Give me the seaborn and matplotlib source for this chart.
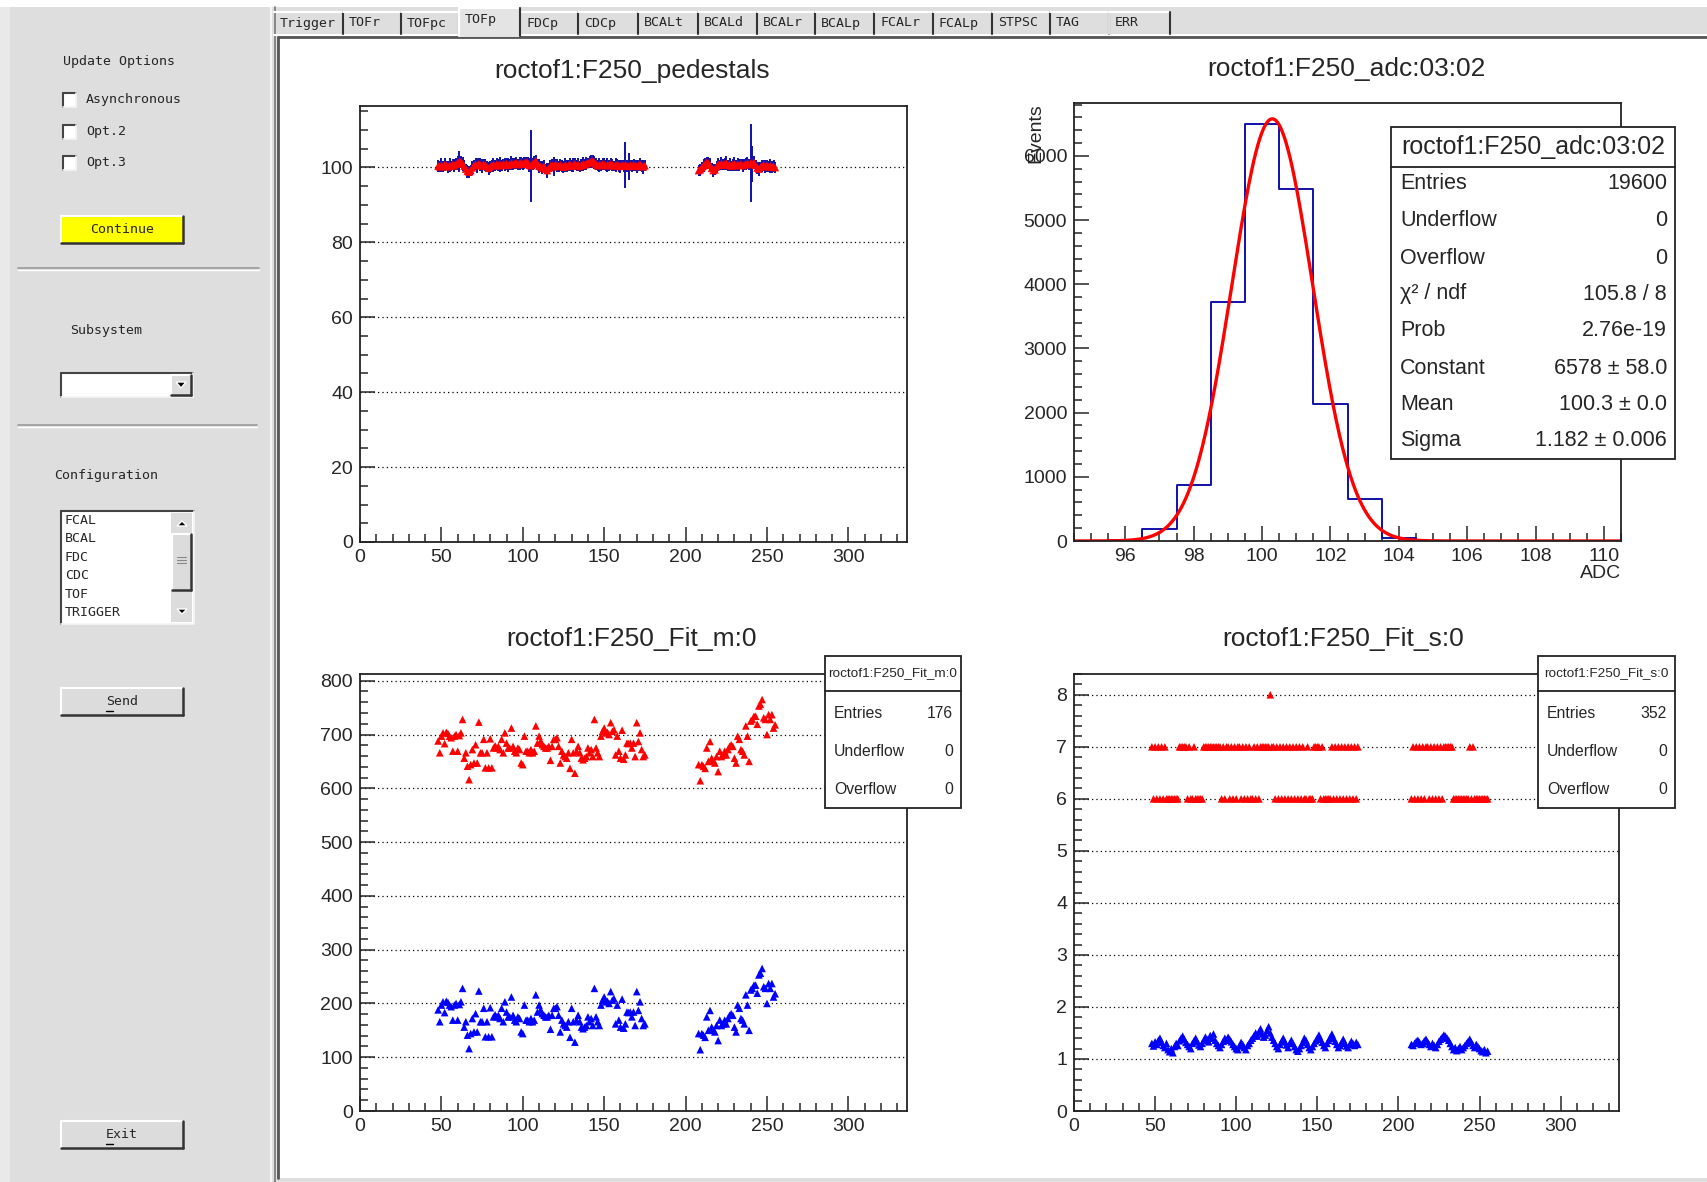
import numpy as np
import pandas as pd
import matplotlib
matplotlib.use("Agg")
import matplotlib.pyplot as plt
import seaborn as sns
from matplotlib.patches import Rectangle, Polygon
from matplotlib.lines import Line2D
from matplotlib.ticker import MultipleLocator

# ---------------- data ----------------
tab_names = ["Trigger", "TOFr", "TOFpc", "TOFp", "FDCp", "CDCp", "BCALt", "BCALd",
             "BCALr", "BCALp", "FCALr", "FCALp", "STPSC", "TAG", "ERR"]
config_items = ["FCAL", "BCAL", "FDC", "CDC", "TOF", "TRIGGER"]

channels = list(range(48, 176)) + list(range(208, 256))

ped_mean = [
    100.4, 100.2, 100.6, 100.3, 100.7, 100.5, 100.2, 100.6, 100.4, 100.8,
    100.5, 100.9, 101.2, 101.6, 101.5, 101.0, 100.4, 99.6, 99.0, 98.8,
    99.2, 99.9, 100.5, 100.8, 100.6, 101.0, 100.7, 100.4, 100.9, 100.6,
    100.3, 99.8, 100.2, 100.6, 100.7, 100.5, 100.9, 100.6, 100.8, 100.5,
    100.9, 100.7, 101.0, 100.6, 100.8, 101.1, 100.9, 101.0, 101.2, 100.8,
    101.1, 101.3, 100.9, 101.2, 101.4, 101.3, 100.6, 100.5, 100.9, 101.3,
    101.8, 100.8, 100.4, 100.2, 99.9, 100.3, 99.6, 99.2, 99.8, 100.4,
    100.6, 100.2, 100.8, 100.5, 100.3, 100.7, 100.4, 100.1, 100.6, 100.3,
    100.5, 100.8, 100.4, 100.6, 100.9, 100.5, 100.7, 100.3, 100.6, 100.9,
    100.7, 101.0, 101.2, 101.4, 101.6, 101.7, 101.3, 100.9, 100.5, 100.7,
    100.6, 100.9, 100.8, 100.5, 100.7, 100.6, 100.9, 100.7, 100.4, 100.6,
    100.8, 100.5, 100.3, 100.6, 100.4, 100.7, 100.5, 100.3, 100.6, 100.4,
    100.7, 100.5, 100.3, 100.6, 100.8, 100.4, 100.2, 100.5,
    99.2, 99.4, 100.0, 100.5, 100.9, 101.3, 101.1, 100.6, 99.8, 99.2,
    99.4, 100.2, 100.8, 100.6, 101.0, 100.7, 100.9, 101.1, 100.6, 100.8,
    100.4, 100.7, 100.9, 100.5, 100.8, 100.6, 100.9, 100.5, 100.7, 100.9,
    101.1, 100.8, 101.2, 100.9, 101.3, 100.6, 99.9, 99.6, 100.1, 100.4,
    100.6, 100.3, 100.5, 100.2, 100.4, 100.1, 100.3, 100.0,
]
ped_err = [
    1.6, 1.4, 1.8, 1.5, 1.7, 1.3, 1.6, 1.9, 1.4, 1.5,
    1.7, 1.5, 1.8, 2.8, 1.6, 1.9, 1.5, 1.4, 1.7, 1.6,
    1.5, 1.8, 1.4, 1.6, 2.0, 1.5, 1.7, 1.9, 1.4, 1.6,
    1.5, 1.7, 1.6, 1.4, 1.8, 1.5, 1.7, 1.6, 1.9, 1.5,
    1.4, 1.7, 1.6, 1.8, 1.5, 1.9, 1.6, 1.4, 1.7, 1.5,
    1.8, 1.6, 1.5, 1.7, 1.4, 1.6, 1.9, 9.6, 1.5, 1.7,
    1.6, 1.4, 1.8, 1.5, 1.7, 1.6, 1.4, 1.9, 1.5, 1.7,
    1.6, 2.6, 1.5, 1.8, 1.4, 1.6, 1.7, 1.5, 1.9, 1.6,
    1.4, 1.7, 1.5, 1.8, 1.6, 1.4, 1.7, 1.5, 1.6, 1.9,
    1.5, 1.7, 1.4, 1.6, 1.8, 1.5, 1.7, 1.6, 1.4, 1.8,
    1.5, 1.7, 1.6, 1.4, 1.9, 1.5, 1.7, 1.6, 1.4, 1.8,
    1.5, 1.6, 1.7, 1.4, 1.5, 6.2, 1.6, 3.6, 1.5, 1.7,
    1.6, 1.4, 1.8, 1.5, 1.7, 1.6, 1.9, 1.5,
    1.4, 1.6, 1.5, 1.8, 1.7, 1.5, 1.6, 1.9, 1.4, 1.7,
    1.5, 1.6, 1.8, 1.4, 1.7, 1.5, 1.6, 1.9, 1.5, 1.7,
    1.4, 1.6, 1.8, 1.5, 1.7, 1.6, 1.4, 1.8, 1.5, 1.7,
    1.6, 1.4, 10.3, 4.8, 1.7, 1.5, 1.6, 1.8, 1.4, 1.6,
    1.5, 1.7, 1.6, 1.4, 1.8, 1.5, 1.6, 1.4,
]

adc_bins = [96, 97, 98, 99, 100, 101, 102, 103, 104]
adc_counts = [10, 180, 870, 3720, 6500, 5480, 2140, 650, 50]
fit_const, fit_mean, fit_sigma = 6578.0, 100.3, 1.182

fit_m_blue = [
    188, 166, 197, 203, 183, 204, 202, 197, 194, 169,
    197, 200, 169, 198, 203, 228, 156, 166, 141, 116,
    144, 172, 147, 181, 147, 223, 166, 166, 191, 138,
    166, 138, 192, 138, 175, 179, 175, 178, 172, 191,
    166, 203, 184, 175, 175, 212, 178, 169, 166, 175,
    172, 147, 144, 197, 169, 169, 166, 172, 166, 169,
    216, 184, 197, 188, 181, 178, 175, 175, 178, 152,
    178, 191, 191, 194, 178, 147, 169, 162, 159, 156,
    166, 137, 191, 166, 128, 169, 178, 166, 156, 153,
    156, 159, 175, 166, 172, 159, 228, 175, 166, 159,
    197, 206, 212, 203, 204, 200, 222, 206, 209, 162,
    197, 169, 156, 208, 154, 162, 184, 183, 184, 175,
    184, 159, 222, 187, 203, 172, 159, 162,
    144, 114, 144, 141, 137, 175, 150, 187, 156, 150,
    147, 159, 131, 169, 159, 162, 169, 162, 172, 178,
    181, 178, 156, 147, 197, 191, 172, 169, 162, 216,
    197, 150, 225, 228, 234, 234, 219, 253, 256, 265,
    231, 228, 200, 237, 228, 237, 212, 218,
]
fit_m_red = [
    688, 666, 697, 703, 683, 704, 702, 697, 694, 669,
    697, 700, 669, 698, 703, 728, 656, 666, 641, 616,
    644, 672, 647, 681, 647, 723, 666, 666, 691, 638,
    666, 638, 692, 638, 675, 679, 675, 678, 672, 691,
    666, 703, 684, 675, 675, 712, 678, 669, 666, 675,
    672, 647, 644, 697, 669, 669, 666, 672, 666, 669,
    716, 684, 697, 688, 681, 678, 675, 675, 678, 652,
    678, 691, 691, 694, 678, 647, 669, 662, 659, 656,
    666, 637, 691, 666, 628, 669, 678, 666, 656, 653,
    656, 659, 675, 666, 672, 659, 728, 675, 666, 659,
    697, 706, 712, 703, 704, 700, 722, 706, 709, 662,
    697, 669, 656, 708, 654, 662, 684, 683, 684, 675,
    684, 659, 722, 687, 703, 672, 659, 662,
    644, 614, 644, 641, 637, 675, 650, 687, 656, 650,
    647, 659, 631, 669, 659, 662, 669, 662, 672, 678,
    681, 678, 656, 647, 697, 691, 672, 669, 662, 716,
    697, 650, 725, 728, 734, 734, 719, 753, 756, 765,
    731, 728, 700, 737, 728, 737, 712, 718,
]

fit_s_blue = [
    1.30, 1.25, 1.33, 1.28, 1.36, 1.40, 1.32, 1.26, 1.22, 1.30,
    1.18, 1.14, 1.20, 1.12, 1.24, 1.30, 1.26, 1.35, 1.40, 1.44,
    1.38, 1.32, 1.28, 1.24, 1.20, 1.30, 1.35, 1.40, 1.33, 1.27,
    1.24, 1.30, 1.36, 1.42, 1.38, 1.33, 1.45, 1.40, 1.48, 1.36,
    1.30, 1.26, 1.22, 1.28, 1.34, 1.40, 1.36, 1.42, 1.38, 1.33,
    1.28, 1.24, 1.20, 1.18, 1.25, 1.32, 1.28, 1.22, 1.18, 1.26,
    1.30, 1.36, 1.40, 1.45, 1.50, 1.44, 1.52, 1.58, 1.48, 1.42,
    1.46, 1.55, 1.62, 1.50, 1.42, 1.36, 1.30, 1.24, 1.20, 1.28,
    1.34, 1.40, 1.33, 1.27, 1.22, 1.30, 1.36, 1.30, 1.24, 1.18,
    1.15, 1.20, 1.26, 1.32, 1.40, 1.36, 1.28, 1.22, 1.18, 1.24,
    1.30, 1.35, 1.40, 1.46, 1.38, 1.32, 1.26, 1.22, 1.30, 1.36,
    1.42, 1.48, 1.40, 1.34, 1.28, 1.22, 1.26, 1.32, 1.38, 1.30,
    1.25, 1.22, 1.28, 1.34, 1.30, 1.26, 1.32, 1.28,
    1.28, 1.26, 1.30, 1.34, 1.36, 1.32, 1.28, 1.30, 1.35, 1.38,
    1.33, 1.28, 1.24, 1.30, 1.26, 1.22, 1.28, 1.34, 1.38, 1.42,
    1.46, 1.44, 1.40, 1.36, 1.30, 1.24, 1.18, 1.22, 1.16, 1.20,
    1.24, 1.18, 1.22, 1.26, 1.30, 1.34, 1.38, 1.32, 1.26, 1.22,
    1.28, 1.24, 1.20, 1.16, 1.14, 1.18, 1.12, 1.15,
]
fit_s_red = [
    7, 6, 7, 6, 7, 6, 7, 6, 7, 6,
    6, 6, 6, 6, 6, 6, 6,
    7, 7, 7, 7, 7, 6, 7,
    6, 6, 7, 6, 6, 6, 6, 6,
    7, 7, 7, 7, 7, 7, 7, 7, 7, 7, 7,
    6, 7, 6, 7, 7, 6, 7, 6, 7, 6, 7, 7, 6, 7, 6, 7, 6, 7,
    6, 6, 7, 6, 7, 6,
    7, 7, 7, 7, 7, 7, 8, 7, 7,
    6, 7, 6, 7, 6, 7, 6,
    7, 6, 7, 6, 7, 6, 7, 6, 7, 6, 7,
    6, 6, 7, 6, 6, 6,
    7, 7, 7, 7, 6, 7, 6, 6, 6, 6, 6,
    7, 6, 7, 6, 7, 6, 7, 6, 7, 6, 7, 6, 7, 6, 7, 6, 7,
    6, 7, 6, 7, 6, 7, 6, 7, 6, 7, 7,
    6, 7, 6, 7, 6, 7, 6, 7, 6, 7,
    7, 7, 7, 7, 7, 6,
    6, 6, 6, 6, 6, 6, 6, 6, 6,
    7, 6, 7, 6,
    6, 6, 6, 6, 6, 6, 6, 6,
]

# ---------------- figure / helpers ----------------
W, H = 1707, 1182
sns.set_style("ticks")
plt.rcParams["font.family"] = ["Liberation Sans", "DejaVu Sans"]
GUI_FONT = "DejaVu Sans Mono"

fig = plt.figure(figsize=(W / 100, H / 100), dpi=100, facecolor="#dedede")


def rect(x0, y0, x1, y1, z=1, **kw):
    fig.add_artist(Rectangle((x0 / W, 1 - y1 / H), (x1 - x0) / W, (y1 - y0) / H,
                             transform=fig.transFigure, zorder=z, **kw))


def line(x0, y0, x1, y1, z=2, **kw):
    fig.add_artist(Line2D([x0 / W, x1 / W], [1 - y0 / H, 1 - y1 / H],
                          transform=fig.transFigure, zorder=z, **kw))


def text(x, y, s, z=3, **kw):
    fig.text(x / W, 1 - y / H, s, zorder=z, **kw)


def button(x0, y0, x1, y1, label, fc="#dcdcdc", under=None):
    rect(x0, y0, x1, y1, fc=fc, ec="none")
    line(x0, y0, x1, y0, color="white", lw=1.5)
    line(x0, y0, x0, y1, color="white", lw=1.5)
    line(x0, y1, x1, y1, color="#333333", lw=1.8)
    line(x1, y0, x1, y1, color="#333333", lw=1.8)
    cx, cy = (x0 + x1) / 2, (y0 + y1) / 2
    text(cx, cy, label, family=GUI_FONT, fontsize=9.5, ha="center", va="center")
    if under:
        line(cx - 16, cy + 9, cx - 9, cy + 9, color="black", lw=1)


def sunken(x0, y0, x1, y1, fc="white"):
    rect(x0, y0, x1, y1, fc=fc, ec="none")
    line(x0, y0, x1, y0, color="#444444", lw=1.5)
    line(x0, y0, x0, y1, color="#444444", lw=1.5)
    line(x0, y1, x1, y1, color="#f4f4f4", lw=1.2)
    line(x1, y0, x1, y1, color="#f4f4f4", lw=1.2)


# ---------------- GUI chrome ----------------
rect(0, 0, W, 7, fc="white", ec="none", z=0)
rect(0, 7, 10, H, fc="#e9e9e9", ec="none", z=0)
line(271, 7, 271, H, color="#f6f6f6", lw=1.5)
line(275, 7, 275, H, color="#777777", lw=1.2)

text(63, 61, "Update Options", family=GUI_FONT, fontsize=9.5, va="center")
for yy, lab in zip([100, 132, 163], ["Asynchronous", "Opt.2", "Opt.3"]):
    sunken(63, yy - 7, 76, yy + 7)
    text(86, yy, lab, family=GUI_FONT, fontsize=9.5, va="center")
button(61, 216, 183, 243, "Continue", fc="#ffff00")
line(18, 268, 259, 268, color="#9a9a9a", lw=1.2)
line(18, 270, 259, 270, color="white", lw=1.0)
text(70, 330, "Subsystem", family=GUI_FONT, fontsize=9.5, va="center")
sunken(61, 373, 193, 397)
button(171, 375, 191, 395, "")
fig.add_artist(Polygon([[176 / W, 1 - 382 / H], [186 / W, 1 - 382 / H], [181 / W, 1 - 388 / H]],
                       closed=True, transform=fig.transFigure, fc="black", zorder=4))
line(18, 425, 257, 425, color="#9a9a9a", lw=1.2)
line(18, 427, 257, 427, color="white", lw=1.0)
text(54, 475, "Configuration", family=GUI_FONT, fontsize=9.5, va="center")
sunken(61, 511, 194, 624)
for i, item in enumerate(config_items):
    text(65, 520 + i * 18.6, item, family=GUI_FONT, fontsize=9.5, va="center")
rect(171, 513, 192, 622, fc="#dcdcdc", ec="none", z=2)
button(172, 534, 191, 590, "")
for k in range(3):
    line(177, 557 + k * 3, 186, 557 + k * 3, color="#888888", lw=0.8, z=5)
fig.add_artist(Polygon([[177 / W, 1 - 526 / H], [187 / W, 1 - 526 / H], [182 / W, 1 - 521 / H]],
                       closed=True, transform=fig.transFigure, fc="black", zorder=4))
fig.add_artist(Polygon([[177 / W, 1 - 609 / H], [187 / W, 1 - 609 / H], [182 / W, 1 - 614 / H]],
                       closed=True, transform=fig.transFigure, fc="black", zorder=4))
button(61, 688, 183, 715, "Send", under=True)
button(61, 1121, 183, 1148, "Exit", under=True)

# tabs
tab_edges = [274, 343, 401, 459, 520, 578, 638, 698, 757, 815, 874, 933, 992, 1050, 1109, 1170]
line(274, 35, W, 35, color="white", lw=1.5)
for i, name in enumerate(tab_names):
    x0, x1 = tab_edges[i], tab_edges[i + 1]
    if name == "TOFp":
        rect(x0, 8, x1, 37, fc="#e4e4e4", ec="none", z=3)
        line(x0, 8, x1, 8, color="white", lw=1.5, z=4)
        line(x0, 8, x0, 36, color="white", lw=1.5, z=4)
        line(x1, 8, x1, 36, color="#333333", lw=1.5, z=4)
        text(x0 + 6, 20, name, family=GUI_FONT, fontsize=9.5, va="center", z=5)
    else:
        line(x0, 12, x1, 12, color="white", lw=1.5)
        line(x1, 12, x1, 34, color="#333333", lw=1.5)
        text(x0 + 6, 23, name, family=GUI_FONT, fontsize=9.5, va="center")
line(1109, 12, 1109, 34, color="white", lw=1.2)

# canvas
rect(279, 38, W, 1178, fc="white", ec="none", z=0)
line(278, 37, W, 37, color="#555555", lw=2)
line(278, 37, 278, 1178, color="#555555", lw=2)

# ---------------- axes helpers ----------------
def frac(x0, y0, x1, y1):
    return [x0 / W, 1 - y1 / H, (x1 - x0) / W, (y1 - y0) / H]


def root_axes(ax, xlim, ylim, xmaj, xmin, ymaj, ymin, grid=True):
    ax.set_xlim(*xlim)
    ax.set_ylim(*ylim)
    ax.xaxis.set_major_locator(MultipleLocator(xmaj))
    ax.xaxis.set_minor_locator(MultipleLocator(xmin))
    ax.yaxis.set_major_locator(MultipleLocator(ymaj))
    ax.yaxis.set_minor_locator(MultipleLocator(ymin))
    ax.tick_params(which="major", direction="in", length=11, width=1.1, labelsize=14, pad=5)
    ax.tick_params(which="minor", direction="in", length=5.5, width=1.1)
    ax.tick_params(top=False, right=False)
    for s in ax.spines.values():
        s.set_visible(True)
        s.set_linewidth(1.3)
        s.set_color("#222222")
    if grid:
        ax.yaxis.grid(True, which="major", linestyle=(0, (1, 2.5)), color="black", lw=0.9)
    ax.set_facecolor("white")
    ax.set_xlabel("")
    ax.set_ylabel("")


def stats_box(x0, y0, x1, y1, ydiv, title, rows, row_y, tsize, rsize):
    rect(x0, y0, x1, y1, z=6, fc="white", ec="#222222", lw=1.3)
    line(x0, ydiv, x1, ydiv, z=7, color="#222222", lw=1.3)
    text((x0 + x1) / 2, (y0 + ydiv) / 2, title, z=8, fontsize=tsize, ha="center", va="center")
    for (lab, val), yy in zip(rows, row_y):
        text(x0 + 9, yy, lab, z=8, fontsize=rsize, va="center")
        text(x1 - 8, yy, val, z=8, fontsize=rsize, va="center", ha="right")


BLUE = "#1010a8"
TITLE_SIZE = 19

# 1) pedestals
ax1 = fig.add_axes(frac(360, 106, 907, 542))
ped_lo = [m - e for m, e in zip(ped_mean, ped_err)]
ped_hi = [m + e for m, e in zip(ped_mean, ped_err)]
ax1.vlines(channels, ped_lo, ped_hi, color=BLUE, lw=1.4, zorder=3)
sns.scatterplot(x=channels, y=ped_mean, ax=ax1, color="red", marker="^", s=32,
                edgecolor="none", zorder=4, legend=False)
root_axes(ax1, (0, 336), (0, 116.4), 50, 10, 20, 5)
text(632, 71, "roctof1:F250_pedestals", fontsize=TITLE_SIZE, ha="center", va="center")

# 2) ADC histogram with gaussian fit
ax2 = fig.add_axes(frac(1074, 103, 1621, 541))
adc_df = pd.DataFrame({"adc": adc_bins, "count": adc_counts})
sns.histplot(data=adc_df, x="adc", weights="count", binwidth=1.0, binrange=(94.5, 110.5),
             element="step", fill=False, color=BLUE, lw=1.4, ax=ax2)
gx = np.linspace(94.5, 110.5, 500)
gy = fit_const * np.exp(-0.5 * ((gx - fit_mean) / fit_sigma) ** 2)
sns.lineplot(x=gx, y=gy, ax=ax2, color="red", lw=2.4)
root_axes(ax2, (94.5, 110.5), (0, 6825), 2, 0.5, 1000, 200, grid=False)
text(1346, 69, "roctof1:F250_adc:03:02", fontsize=TITLE_SIZE, ha="center", va="center")
text(1036, 103, "Events", fontsize=14, rotation=90, ha="center", va="top")
text(1621, 573, "ADC", fontsize=14, ha="right", va="center")
stats_box(1391, 127, 1675, 459, 167, "roctof1:F250_adc:03:02",
          [("Entries", "19600"), ("Underflow", "0"), ("Overflow", "0"),
           ("\u03c7\u00b2 / ndf", "105.8 / 8"), ("Prob", "2.76e-19"),
           ("Constant", "6578 \u00b1 58.0"), ("Mean", "100.3 \u00b1 0.0"),
           ("Sigma", "1.182 \u00b1 0.006")],
          [184, 221, 258, 294, 331, 368, 405, 440], 18, 15.5)

# 3) Fit_m
ax3 = fig.add_axes(frac(360, 674, 907, 1111))
sns.scatterplot(x=channels, y=fit_m_red, ax=ax3, color="red", marker="^", s=30,
                edgecolor="none", zorder=4, legend=False)
sns.scatterplot(x=channels, y=fit_m_blue, ax=ax3, color="blue", marker="^", s=30,
                edgecolor="none", zorder=4, legend=False)
root_axes(ax3, (0, 336), (0, 812.5), 50, 10, 100, 20)
text(632, 639, "roctof1:F250_Fit_m:0", fontsize=TITLE_SIZE, ha="center", va="center")
stats_box(825, 656, 961, 808, 691, "roctof1:F250_Fit_m:0",
          [("Entries", "176"), ("Underflow", "0"), ("Overflow", "0")],
          [713, 751, 789], 9.7, 11.3)

# 4) Fit_s
ax4 = fig.add_axes(frac(1074, 674, 1619, 1111))
sns.scatterplot(x=channels, y=fit_s_red, ax=ax4, color="red", marker="^", s=30,
                edgecolor="none", zorder=4, legend=False)
sns.scatterplot(x=channels, y=fit_s_blue, ax=ax4, color="blue", marker="^", s=30,
                edgecolor="none", zorder=4, legend=False)
root_axes(ax4, (0, 336), (0, 8.4), 50, 10, 1, 0.2)
text(1343, 639, "roctof1:F250_Fit_s:0", fontsize=TITLE_SIZE, ha="center", va="center")
stats_box(1538, 656, 1675, 808, 691, "roctof1:F250_Fit_s:0",
          [("Entries", "352"), ("Underflow", "0"), ("Overflow", "0")],
          [713, 751, 789], 9.7, 11.3)

fig.savefig("out.png", dpi=100, facecolor=fig.get_facecolor())
